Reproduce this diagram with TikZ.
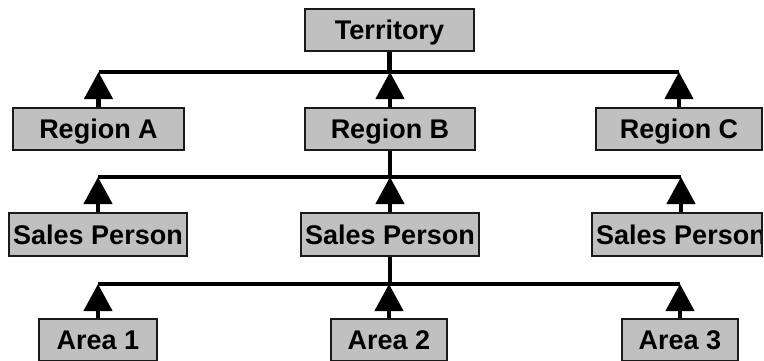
\documentclass[tikz,border=0pt]{standalone}
\usepackage{fontspec}
\setmainfont{Liberation Sans}
\usepackage{xcolor}
\usepackage{tikz}
\usetikzlibrary{arrows.meta}

\definecolor{boxgray}{HTML}{C0C0C0}
\definecolor{boxedge}{HTML}{1A1A1A}

\begin{document}
\begin{tikzpicture}[x=1pt, y=-1pt, every node/.style={font=\fontsize{27}{32}\selectfont\bfseries, align=center}, box/.style={rectangle, fill=boxgray, draw=boxedge, line width=1.5pt, inner sep=0pt, text height=19.4pt, text depth=0pt, minimum height=42pt}, bus/.style={line width=4.5pt, line cap=butt}, conn/.style={line width=4.5pt, -{Triangle[length=27pt, width=28pt]}}]
\useasboundingbox (0,0) rectangle (764,360);
% top level
\node[box, minimum width=169pt] (terr) at (389.5,30) {Territory};
\node[box, minimum width=171pt] (ra) at (98.5,129) {Region A};
\node[box, minimum width=170pt] (rb) at (390,129) {Region B};
\node[box, minimum width=166pt] (rc) at (679,129) {Region C};
% sales people
\node[box, minimum width=178pt, minimum height=43pt] (sp1) at (98,234.5) {Sales Person};
\node[box, minimum width=178pt, minimum height=43pt] (sp2) at (390,234.5) {Sales Person};
\begin{scope}
\clip (0,0) rectangle (762,360);
\node[box, minimum width=178pt, minimum height=43pt] (sp3) at (681,234.5) {Sales Person};
\end{scope}
\coordinate (cut) at (762,0);
\draw[draw=boxedge, line width=1.5pt] (sp3.north -| cut) -- (sp3.south -| cut);
% areas
\node[box, minimum width=118pt] (a1) at (98,340) {Area 1};
\node[box, minimum width=116pt] (a2) at (389,340) {Area 2};
\node[box, minimum width=116pt] (a3) at (680,340) {Area 3};
% busses
\coordinate (bus1) at (389.5,72);
\coordinate (bus2) at (390,177);
\coordinate (bus3) at (390,284);
\draw[bus] (terr.south) -- (bus1);
\draw[bus] (ra.north |- bus1) -- (rc.north |- bus1);
\draw[bus] (rb.south) -- (bus2);
\draw[bus] (sp1.north |- bus2) -- (sp3.north |- bus2);
\draw[bus] (sp2.south) -- (bus3);
\draw[bus] (a1.north |- bus3) -- (a3.north |- bus3);
% arrows
\draw[conn] (ra.north) -- (ra.north |- bus1);
\draw[conn] (rb.north) -- (rb.north |- bus1);
\draw[conn] (rc.north) -- (rc.north |- bus1);
\draw[conn] (sp1.north) -- (sp1.north |- bus2);
\draw[conn] (sp2.north) -- (sp2.north |- bus2);
\draw[conn] (sp3.north) -- (sp3.north |- bus2);
\draw[conn] (a1.north) -- (a1.north |- bus3);
\draw[conn] (a2.north) -- (a2.north |- bus3);
\draw[conn] (a3.north) -- (a3.north |- bus3);
\end{tikzpicture}
\end{document}
